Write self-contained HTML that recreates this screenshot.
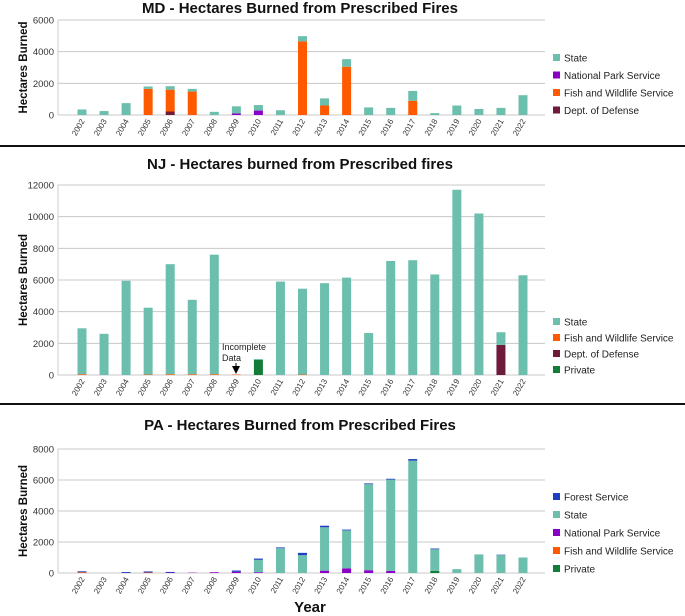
<!DOCTYPE html>
<html><head><meta charset="utf-8"><style>
body{margin:0;background:#fff;width:685px;height:616px;overflow:hidden;font-family:"Liberation Sans",sans-serif}
svg{display:block}
</style></head><body>
<svg id="c" width="685" height="616"></svg>
<script>
const years=["2002","2003","2004","2005","2006","2007","2008","2009","2010","2011","2012","2013","2014","2015","2016","2017","2018","2019","2020","2021","2022"];
// MD
const mdDoD=[0,0,0,0,220,0,0,0,0,0,0,0,0,0,0,0,0,0,0,0,0];
const mdFWS=[0,0,0,1650,1380,1480,0,0,0,0,4650,600,3050,0,0,900,0,0,0,0,0];
const mdNPS=[0,0,0,0,0,0,0,100,280,0,0,0,0,0,0,0,0,0,0,0,0];
const mdState=[350,250,750,150,220,170,200,450,350,300,330,450,480,480,450,620,120,600,380,450,1250];
const mdTicks=[0,2000,4000,6000];
// NJ
const njPrivate=[0,0,0,0,0,0,0,0,950,0,0,0,0,0,0,0,0,0,0,0,0];
const njDoD=[0,0,0,0,0,0,0,0,0,0,0,0,0,0,0,0,0,0,0,1900,0];
const njFWS=[50,0,0,30,50,50,50,30,0,0,30,0,0,0,0,0,0,0,0,0,0];
const njState=[2900,2600,5950,4220,6950,4700,7550,0,60,5900,5420,5800,6150,2650,7200,7250,6350,11700,10200,800,6300];
const njTicks=[0,2000,4000,6000,8000,10000,12000];
// PA
const paPrivate=[0,0,0,0,0,0,0,0,0,0,0,0,0,0,0,0,130,0,0,0,0];
const paFWS=[50,0,0,30,0,0,0,0,0,0,0,0,0,0,0,0,0,0,0,0,0];
const paNPS=[0,0,0,0,30,20,50,80,50,0,0,150,300,180,130,0,0,0,0,0,0];
const paState=[0,0,0,0,0,0,0,0,800,1600,1150,2800,2450,5550,5900,7250,1400,250,1200,1150,1000];
const paForest=[60,0,60,70,40,0,0,80,80,50,150,100,50,50,50,100,50,0,0,30,0];
const paTicks=[0,2000,4000,6000,8000];

const C={state:"#6dbfad",nps:"#8a00c8",fws:"#ff5a00",dod:"#6e1a3a",priv:"#127c39",forest:"#1f3fbf"};
const NS="http://www.w3.org/2000/svg";
const svg=document.getElementById('c');
function el(t,a,p){const e=document.createElementNS(NS,t);for(const k in a)e.setAttribute(k,a[k]);(p||svg).appendChild(e);return e;}
function txt(s,a,p){const e=el('text',a,p);e.textContent=s;return e;}

function chart(o){
  const g=el('g',{});
  
  
  const x0=58,x1=545;
  const y=v=>o.yb-(v/o.max)*(o.yb-o.yt);
  const x=i=>82+i*22.05;
  const t=txt(o.title,{x:300,y:o.ty,'text-anchor':'middle','font-size':15,'font-weight':'bold',fill:'#111'},g);
  
  o.ticks.forEach(v=>{
    el('line',{x1:x0,x2:x1,y1:y(v),y2:y(v),stroke:'#c8c8c8','stroke-width':1},g);
    const l=txt(String(v),{x:x0-4,y:y(v)+3.5,'text-anchor':'end','font-size':9.5,fill:'#333'},g);
    
  });
  el('line',{x1:x0,x2:x0,y1:o.yt,y2:o.yb,stroke:'#ccc'},g);
  const yl=txt('Hectares Burned',{x:0,y:0,transform:`translate(27,${(o.yt+o.yb)/2}) rotate(-90)`,'text-anchor':'middle','font-size':11.5,'font-weight':'bold',fill:'#111'},g);
  
  years.forEach((yr,i)=>{
    let acc=0;
    o.series.forEach(s=>{
      const v=s.data[i];if(!v)return;
      const r=el('rect',{x:x(i)-4.5,y:y(acc+v),width:9,height:y(acc)-y(acc+v),fill:s.color},g);
      
      
      acc+=v;
    });
    const l=txt(yr,{x:0,y:0,transform:`translate(${x(i)+3},${o.yb+6}) rotate(-60)`,'text-anchor':'end','font-size':8,fill:'#333'},g);
    
  });
  o.legend.forEach((s,k)=>{
    const ly=o.ly+k*o.lstep;
    el('rect',{x:553,y:ly-4,width:7,height:7,fill:s.color},g);
    const l=txt(s.label,{x:564,y:ly+3.5,'font-size':10,fill:'#222'},g);
    
  });
  return {g,x,y};
}
chart({name:'md-chart',title:'MD - Hectares Burned from Prescribed Fires',ty:13,yt:20,yb:115,max:6000,ticks:mdTicks,
  series:[{key:'dod',data:mdDoD,color:C.dod},{key:'nps',data:mdNPS,color:C.nps},{key:'fws',data:mdFWS,color:C.fws},{key:'state',data:mdState,color:C.state}],
  legend:[{label:'State',color:C.state},{label:'National Park Service',color:C.nps},{label:'Fish and Wildlife Service',color:C.fws},{label:'Dept. of Defense',color:C.dod}],ly:58,lstep:17.5});
const sep1=el('line',{x1:0,x2:685,y1:146,y2:146,stroke:'#111','stroke-width':2});

const nj=chart({name:'nj-chart',title:'NJ - Hectares burned from Prescribed fires',ty:169,yt:185,yb:375,max:12000,ticks:njTicks,
  series:[{key:'private',data:njPrivate,color:C.priv},{key:'dod',data:njDoD,color:C.dod},{key:'fws',data:njFWS,color:C.fws},{key:'state',data:njState,color:C.state}],
  legend:[{label:'State',color:C.state},{label:'Fish and Wildlife Service',color:C.fws},{label:'Dept. of Defense',color:C.dod},{label:'Private',color:C.priv}],ly:322,lstep:16});
const ann=txt('Incomplete',{x:222,y:350,'font-size':9,fill:'#222'});

txt('Data',{x:222,y:361,'font-size':9,fill:'#222'});
el('line',{x1:236,x2:236,y1:363,y2:368,stroke:'#000','stroke-width':1});
el('path',{d:'M232,366 L236,374 L240,366 Z',fill:'#000'});
const sep2=el('line',{x1:0,x2:685,y1:404,y2:404,stroke:'#111','stroke-width':2});

chart({name:'pa-chart',title:'PA - Hectares Burned from Prescribed Fires',ty:430,yt:449,yb:573,max:8000,ticks:paTicks,
  series:[{key:'private',data:paPrivate,color:C.priv},{key:'fws',data:paFWS,color:C.fws},{key:'nps',data:paNPS,color:C.nps},{key:'state',data:paState,color:C.state},{key:'forest',data:paForest,color:C.forest}],
  legend:[{label:'Forest Service',color:C.forest},{label:'State',color:C.state},{label:'National Park Service',color:C.nps},{label:'Fish and Wildlife Service',color:C.fws},{label:'Private',color:C.priv}],ly:497,lstep:18});
const xt=txt('Year',{x:310,y:612,'text-anchor':'middle','font-size':15,'font-weight':'bold',fill:'#111'});

</script>
</body></html>
